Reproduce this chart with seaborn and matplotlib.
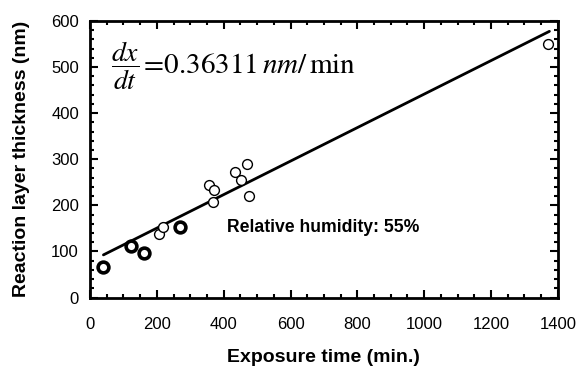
import matplotlib
matplotlib.use("Agg")
import matplotlib.pyplot as plt
from matplotlib.ticker import MultipleLocator
import pandas as pd
import seaborn as sns

# Exposure-time series: thick circles (early samples) and thin circles
bold_time = [40, 124, 160, 270]
bold_thick = [67, 112, 96, 154]
open_time = [207, 219, 355, 370, 367, 433, 452, 469, 477, 1370]
open_thick = [137, 154, 245, 234, 208, 273, 254, 289, 221, 549]

# Linear growth fit
slope = 0.36311
intercept = 78.0
fit_time = [40, 1375]

sns.set_theme(style="ticks")
plt.rcParams["font.family"] = ["Liberation Sans", "DejaVu Sans"]
plt.rcParams["mathtext.fontset"] = "stix"
plt.rcParams["text.color"] = "black"
plt.rcParams["axes.labelcolor"] = "black"

fig = plt.figure(figsize=(5.81, 3.66), dpi=100)
ax = fig.add_axes([0.155, 0.187, 0.805, 0.756])

bold_df = pd.DataFrame({"t": bold_time, "h": bold_thick})
open_df = pd.DataFrame({"t": open_time, "h": open_thick})
fit_df = pd.DataFrame({"t": fit_time,
                       "h": [slope * t + intercept for t in fit_time]})

sns.lineplot(data=fit_df, x="t", y="h", ax=ax, color="black", lw=2.0)
sns.scatterplot(data=open_df, x="t", y="h", ax=ax, marker="o", s=50,
                facecolor="white", edgecolor="black", linewidth=1.0, zorder=3)
sns.scatterplot(data=bold_df, x="t", y="h", ax=ax, marker="o", s=60,
                facecolor="white", edgecolor="black", linewidth=2.6, zorder=3)

ax.set_xlim(0, 1400)
ax.set_ylim(0, 600)
ax.xaxis.set_major_locator(MultipleLocator(200))
ax.xaxis.set_minor_locator(MultipleLocator(50))
ax.yaxis.set_major_locator(MultipleLocator(100))
ax.yaxis.set_minor_locator(MultipleLocator(20))
ax.tick_params(which="both", direction="in", top=True, right=True,
               colors="black", labelsize=12, width=1.5)
ax.tick_params(which="major", length=6)
ax.tick_params(which="minor", length=3)
ax.tick_params(axis="x", which="major", pad=14)
ax.tick_params(axis="y", which="major", pad=8)
for sp in ax.spines.values():
    sp.set_linewidth(2.0)
    sp.set_color("black")

ax.set_xlabel("Exposure time (min.)", fontsize=14, fontweight="bold", labelpad=12)
ax.set_ylabel("Reaction layer thickness (nm)", fontsize=14, fontweight="bold", labelpad=15)

# Growth-rate equation: derivative fraction followed by the rate value
ax.text(63, 490, r"$\dfrac{dx}{dt}$", fontsize=20, va="baseline", ha="left")
ax.text(148, 487, r"$=\!0.36311\,nm/\,\mathrm{min}$",
        fontsize=21, va="baseline", ha="left")
ax.text(410, 152, "Relative humidity: 55%", fontsize=12.7, fontweight="bold",
        va="center", ha="left")

fig.savefig("out.png", dpi=100)
